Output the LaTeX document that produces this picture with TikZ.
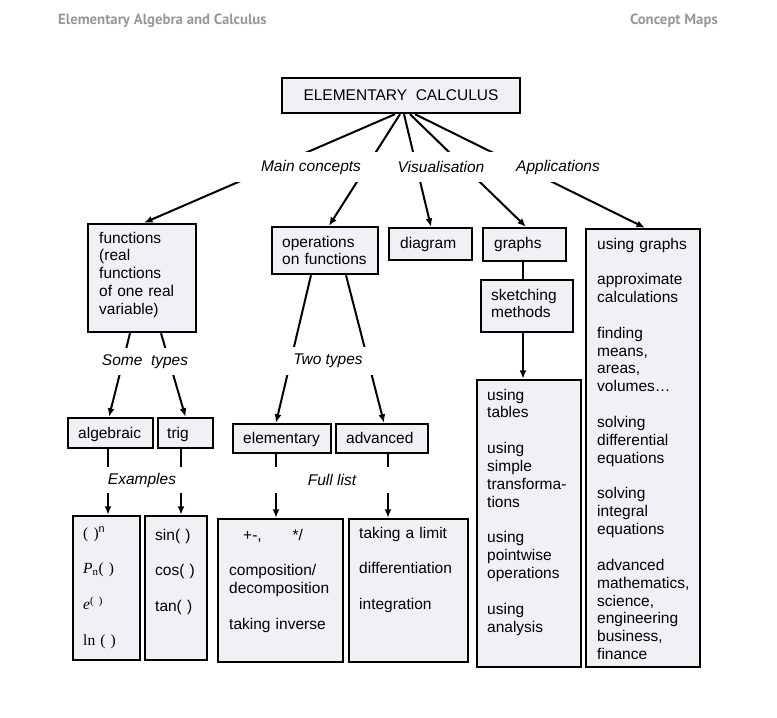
\documentclass[tikz,border=0pt]{standalone}
\usepackage{fontspec}
\setmainfont{Liberation Sans}
\newfontfamily\serifx{Liberation Serif}
\newfontfamily\hdrfont{PT Sans}
\usetikzlibrary{arrows.meta,fit}
\definecolor{boxfill}{RGB}{240,241,244}
\definecolor{hdrgray}{RGB}{152,152,152}
\begin{document}
\begin{tikzpicture}[x=1pt,y=-1pt,
  box/.style={draw=black, line width=2.4pt, fill=boxfill, inner sep=0pt},
  txt/.style={inner sep=0pt, anchor=base west, align=left, text width=130pt, font=\fontsize{15.5}{17.85}\selectfont},
  lbl/.style={fill=white, inner sep=0pt, font=\fontsize{15.5}{17.85}\selectfont\itshape},
  hdr/.style={inner sep=0pt, text=hdrgray, font=\hdrfont\bfseries\fontsize{14.8}{16}\selectfont},
  arr/.style={line width=2pt, -{Latex[length=8.5pt,width=7pt]}},
  ln/.style={line width=2pt}]
\useasboundingbox[fill=white] (0,0) rectangle (777,718);

% header
\node[hdr, anchor=west] (h1) at (58,21) {Elementary Algebra and Calculus};
\node[hdr, anchor=east] (h2) at (718,21) {Concept Maps};

% top box
\node[box, minimum width=238pt, minimum height=35pt, font=\fontsize{15.5}{17.85}\selectfont] (top) at (401,95.5) {ELEMENTARY\ \ CALCULUS};

% row 2
\node[box, fit={(88,224)(196,332)}] (fun) {};
\node[txt] (funT) at (99,243) {functions\\(real\\functions\\of one real\\variable)};
\node[box, fit={(272,227)(378,274)}] (ops) {};
\node[txt] (opsT) at (282,247) {operations\\on functions};
\node[box, fit={(389,228)(472,260)}] (dia) {};
\node[txt] (diaT) at (400,248) {diagram};
\node[box, fit={(483,228)(566,261)}] (gra) {};
\node[txt] (graT) at (494,248) {graphs};
\node[box, fit={(481,280)(573,332)}] (ske) {};
\node[txt] (skeT) at (491,300) {sketching\\methods};
\node[box, fit={(477,380)(581,667)}] (tab) {};
\node[txt] (tabT) at (487,400) {using\\tables\\[17.85pt]using\\simple\\transforma-\\tions\\[17.85pt]using\\pointwise\\operations\\[17.85pt]using\\analysis};
\node[box, fit={(586,229)(700,667)}] (app) {};
\node[txt] (appT) at (597,249) {using graphs\\[17.85pt]approximate\\calculations\\[17.85pt]finding\\means,\\areas,\\volumes…\\[17.85pt]solving\\differential\\equations\\[17.85pt]solving\\integral\\equations\\[17.85pt]advanced\\mathematics,\\science,\\engineering\\business,\\finance};

% row 3
\node[box, fit={(68,418)(153,448)}] (alg) {};
\node[txt] (algT) at (78,438) {algebraic};
\node[box, fit={(158,418)(213,448)}] (trig) {};
\node[txt] (trigT) at (167,438) {trig};
\node[box, fit={(233,424)(331,453)}] (ele) {};
\node[txt] (eleT) at (243,443) {elementary};
\node[box, fit={(336,424)(428,453)}] (adv) {};
\node[txt] (advT) at (346,443) {advanced};

% row 4
\node[box, fit={(73,516)(140,660)}] (ex1) {};
\node[txt, font=\serifx\fontsize{15.5}{17.85}\selectfont] (ex1T) at (83,538) {( )\textsuperscript{\rmfamily n}\\[17.85pt]\textit{P}\textsubscript{n}( )\\[17.85pt]\textit{e}\textsuperscript{( )}\\[17.85pt]ln ( )};
\node[box, fit={(145,516)(207,660)}] (ex2) {};
\node[txt] (ex2T) at (155,540) {sin( )\\[17.85pt]cos( )\\[17.85pt]tan( )};
\node[box, fit={(218,519)(343,662)}] (ex3) {};
\node[txt] (ex3T) at (229,540) {\hspace*{14pt}+-,\hspace{31pt}*/\\[17.85pt]composition/\\decomposition\\[17.85pt]taking inverse};
\node[box, fit={(349,519)(468,662)}] (ex4) {};
\node[txt] (ex4T) at (359,538) {taking a limit\\[17.85pt]differentiation\\[17.85pt]integration};

% connectors
\draw[arr] ([xshift=-6pt]top.south) -- ([xshift=2pt]fun.north);
\draw[arr] ([xshift=-1pt]top.south) -- ([xshift=4pt]ops.north);
\draw[arr] ([xshift=3pt]top.south) -- ([xshift=0.5pt]dia.north);
\draw[arr] ([xshift=9pt]top.south) -- ([xshift=1.5pt]gra.north);
\draw[arr] ([xshift=14pt]top.south) -- ([xshift=2pt]app.north);

\draw[arr] ([xshift=-12pt]fun.south) -- ([xshift=-1.5pt]alg.north);
\draw[arr] ([xshift=19pt]fun.south) -- (trig.north);
\draw[arr] ([xshift=-14pt]ops.south) -- ([xshift=-6pt]ele.north);
\draw[arr] ([xshift=21pt]ops.south) -- ([xshift=2pt]adv.north);

\draw[arr] ([xshift=-2.5pt]alg.south) -- ([xshift=1.5pt]ex1.north);
\draw[arr] ([xshift=-4.5pt]trig.south) -- ([xshift=5pt]ex2.north);
\draw[arr] ([xshift=-6pt]ele.south) -- ([xshift=-4.5pt]ex3.north);
\draw[arr] ([xshift=6pt]adv.south) -- ([xshift=-20.5pt]ex4.north);

\draw[ln] ([xshift=-1.5pt]gra.south) -- ([xshift=-4pt]ske.north);
\draw[arr] ([xshift=-4pt]ske.south) -- ([xshift=-6pt]tab.north);

% labels on white bands
\node[fill=white, inner sep=0pt, minimum width=330pt, minimum height=30pt] (band) at (395,167) {};
\node[lbl] (l1) at (311,167) {Main concepts};
\node[lbl] (l2) at (441,167) {Visualisation};
\node[lbl] (l3) at (558,167) {Applications};
\node[lbl, minimum width=100pt, minimum height=27pt] (l4) at (145,361.5) {Some\ \ types};
\node[lbl, minimum width=110pt, minimum height=28pt] (l5) at (328,361) {Two types};
\node[lbl, minimum width=100pt, minimum height=26pt] (l6) at (142,480) {Examples};
\node[lbl, minimum width=130pt, minimum height=26pt] (l7) at (332,480) {Full list};
\end{tikzpicture}
\end{document}
